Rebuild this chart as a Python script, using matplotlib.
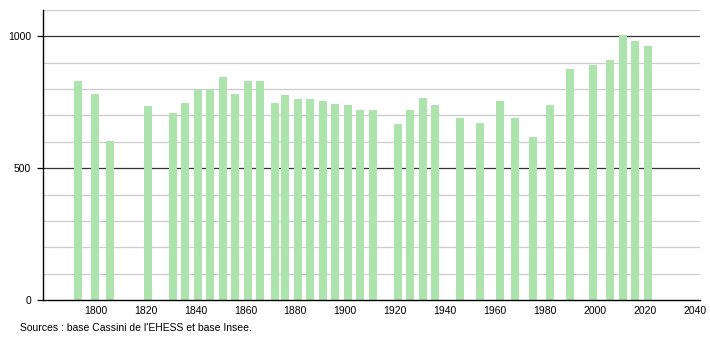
import numpy as np
import matplotlib.pyplot as plt

# census years and population
years = [1793, 1800, 1806, 1821, 1831, 1836, 1841, 1846, 1851, 1856,
         1861, 1866, 1872, 1876, 1881, 1886, 1891, 1896, 1901, 1906,
         1911, 1921, 1926, 1931, 1936, 1946, 1954, 1962, 1968, 1975,
         1982, 1990, 1999, 2006, 2011, 2016, 2021]
population = [829, 783, 605, 734, 711, 749, 798, 802, 844, 783,
              829, 829, 749, 777, 764, 764, 753, 745, 741, 722,
              719, 669, 722, 768, 738, 692, 673, 753, 692, 620,
              741, 878, 890, 909, 1004, 981, 962]
xticks = [1800, 1820, 1840, 1860, 1880, 1900, 1920, 1940, 1960, 1980, 2000, 2020, 2040]
source = "Sources : base Cassini de l'EHESS et base Insee."

plt.rcParams['font.family'] = ['Liberation Sans', 'DejaVu Sans']

fig = plt.figure(figsize=(7.1, 3.4), dpi=100)
ax = fig.add_axes([43 / 710, 1 - 300 / 340, 657 / 710, 290 / 340])

# grid lines
for v in range(100, 1200, 100):
    if v % 500 == 0:
        ax.axhline(v, color='#333333', lw=0.9, zorder=1)
    else:
        ax.axhline(v, color='#cccccc', lw=0.9, zorder=1)

ax.bar(years, population, width=3.2, color='#ade3ad', zorder=2)

ax.set_xlim(1779, 2042)
ax.set_ylim(0, 1100)
ax.set_xticks(xticks)
ax.set_yticks([0, 500, 1000])
ax.tick_params(axis='x', length=0, labelsize=7.5, pad=4)
ax.tick_params(axis='y', length=4, width=0.9, labelsize=7.5, pad=4.5)

for s in ['top', 'right']:
    ax.spines[s].set_visible(False)
ax.spines['left'].set_linewidth(1)
ax.spines['bottom'].set_linewidth(1)

fig.text(20 / 710, 1 - 328 / 340, source, fontsize=7.5, va='center', ha='left')

fig.savefig('out.png', dpi=100)
